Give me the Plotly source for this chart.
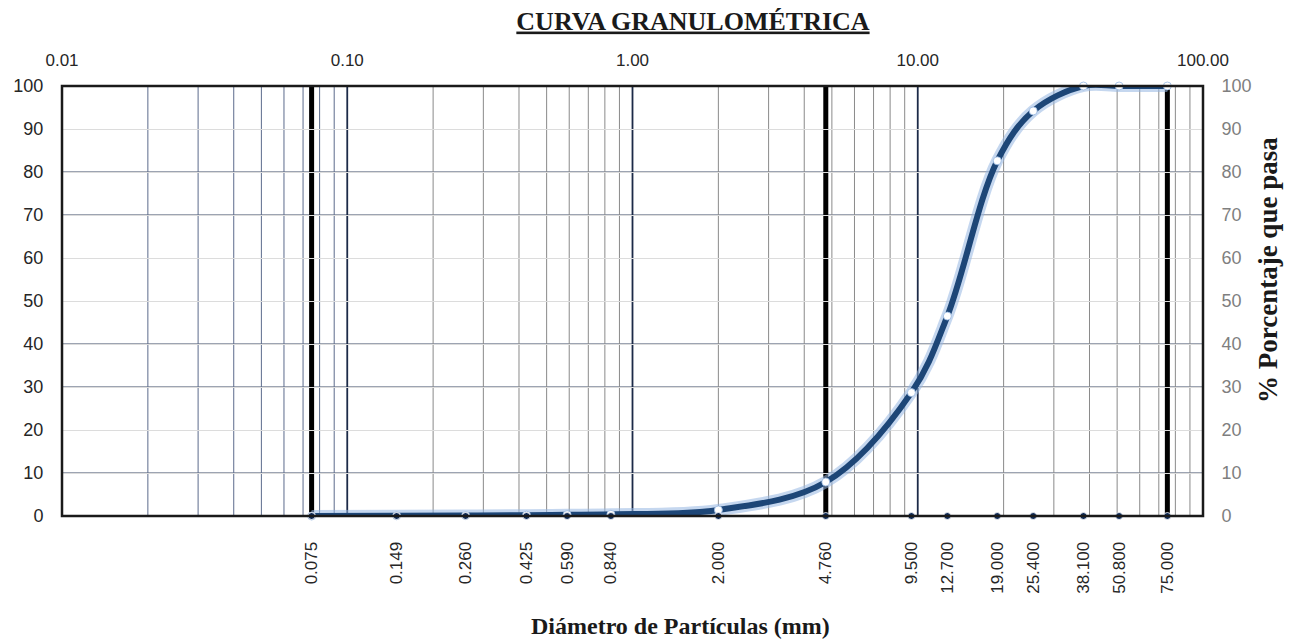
import plotly.graph_objects as go

# ---- data ----
sieve_mm = [0.075, 0.149, 0.260, 0.425, 0.590, 0.840, 2.000, 4.760, 9.500,
            12.700, 19.000, 25.400, 38.100, 50.800, 75.000]
sieve_labels = ["0.075", "0.149", "0.260", "0.425", "0.590", "0.840", "2.000",
                "4.760", "9.500", "12.700", "19.000", "25.400", "38.100",
                "50.800", "75.000"]
pct_passing = [0.0, 0.05, 0.1, 0.2, 0.3, 0.4, 1.4, 7.9, 28.7, 46.5, 82.6,
               94.2, 100.0, 100.0, 100.0]
base_zero = [0] * len(sieve_mm)
top_ticks = [0.01, 0.1, 1, 10, 100]
top_labels = ["0.01", "0.10", "1.00", "10.00", "100.00"]
thick_lines = [0.075, 4.76, 75]
y_ticks = list(range(0, 101, 10))

# gridline positions (log grid)
major_grid = [0.1, 1, 10]
minor_grid = [m * 10 ** e for e in range(-2, 2) for m in range(2, 10)]
dark_hlines = [10, 30, 40, 70, 80]

NAVY = "#1D4677"
SERIF = "Liberation Serif, DejaVu Serif, serif"
SANS = "Liberation Sans, Arial, sans-serif"

fig = go.Figure()

# glow under curve
fig.add_trace(go.Scatter(x=sieve_mm, y=pct_passing, mode="lines",
                         line=dict(color="rgba(150,182,225,0.55)", width=12,
                                   shape="spline", smoothing=1.0),
                         hoverinfo="skip", showlegend=False))
fig.add_trace(go.Scatter(x=sieve_mm, y=pct_passing, mode="lines",
                         line=dict(color=NAVY, width=6, shape="spline",
                                   smoothing=1.0),
                         showlegend=False))
fig.add_trace(go.Scatter(x=sieve_mm, y=pct_passing, mode="markers",
                         marker=dict(color="white", size=8,
                                     line=dict(color="rgba(150,182,225,0.8)", width=1)),
                         cliponaxis=False, showlegend=False))
fig.add_trace(go.Scatter(x=sieve_mm, y=base_zero, mode="markers",
                         marker=dict(color="#0E2A57", size=7,
                                     line=dict(color="white", width=0.8)),
                         cliponaxis=False, showlegend=False))
# invisible trace for top axis
fig.add_trace(go.Scatter(x=top_ticks, y=[None] * len(top_ticks), xaxis="x2",
                         yaxis="y", mode="markers", showlegend=False,
                         hoverinfo="skip"))
# invisible trace for right axis
fig.add_trace(go.Scatter(x=sieve_mm, y=[None] * len(sieve_mm), xaxis="x",
                         yaxis="y2", mode="markers", showlegend=False,
                         hoverinfo="skip"))

shapes = []
for v in minor_grid:
    col = "#5C6B8C" if v < 0.1 else "#8A8A8A"
    shapes.append(dict(type="line", xref="x", yref="y", x0=v, x1=v, y0=0,
                       y1=100, line=dict(color=col, width=1), layer="below"))
for v in major_grid:
    shapes.append(dict(type="line", xref="x", yref="y", x0=v, x1=v, y0=0,
                       y1=100, line=dict(color="#1C2A48", width=1.8),
                       layer="below"))
for v in dark_hlines:
    shapes.append(dict(type="line", xref="paper", yref="y", x0=0, x1=1, y0=v,
                       y1=v, line=dict(color="#3A4865", width=1),
                       layer="below"))
for v in thick_lines:
    shapes.append(dict(type="line", xref="x", yref="y", x0=v, x1=v, y0=0,
                       y1=100, line=dict(color="black", width=5),
                       layer="below"))
shapes.append(dict(type="rect", xref="paper", yref="paper", x0=0, x1=1, y0=0,
                   y1=1, line=dict(color="#1a1a1a", width=2.5), layer="above"))

fig.update_layout(
    width=1299, height=639,
    paper_bgcolor="white", plot_bgcolor="white",
    margin=dict(l=62, r=96, t=86, b=123),
    shapes=shapes,
    title=dict(text="<b><u>CURVA GRANULOMÉTRICA</u></b>",
               font=dict(family=SERIF, size=26, color="#1a1a1a"),
               x=0.553, xref="paper", xanchor="center",
               y=0.968, yref="container", yanchor="middle"),
    xaxis=dict(type="log", range=[-2, 2], tickvals=sieve_mm,
               ticktext=sieve_labels, tickangle=-90, showgrid=False,
               zeroline=False, showline=False, ticks="outside", ticklen=18,
               tickcolor="rgba(0,0,0,0)", automargin=False,
               tickfont=dict(family=SANS, size=17, color="#262626")),
    xaxis2=dict(type="log", range=[-2, 2], overlaying="x", side="top",
                tickvals=top_ticks, ticktext=top_labels, showgrid=False,
                zeroline=False, showline=False, ticks="outside", ticklen=12,
                tickcolor="rgba(0,0,0,0)", automargin=False,
                tickfont=dict(family=SANS, size=17, color="#262626")),
    yaxis=dict(range=[0, 100], tickvals=y_ticks, showgrid=True,
               gridcolor="#DCDCDC", gridwidth=1, zeroline=False,
               showline=False, ticks="outside", ticklen=14,
               tickcolor="rgba(0,0,0,0)", automargin=False,
               tickfont=dict(family=SANS, size=18, color="#262626")),
    yaxis2=dict(range=[0, 100], tickvals=y_ticks, overlaying="y",
                side="right", showgrid=False, zeroline=False, showline=False,
                ticks="outside", ticklen=14, tickcolor="rgba(0,0,0,0)",
                automargin=False,
                tickfont=dict(family=SANS, size=18, color="#7F7F7F")),
    annotations=[
        dict(text="<b>Diámetro de Partículas (mm)</b>", xref="paper",
             yref="paper", x=0.5425, y=-0.256, showarrow=False,
             xanchor="center", yanchor="middle",
             font=dict(family=SERIF, size=24, color="#1a1a1a")),
        dict(text="<b>% Porcentaje que pasa</b>", xref="paper", yref="paper",
             x=1.057, y=0.572, showarrow=False, textangle=-90,
             xanchor="center", yanchor="middle",
             font=dict(family=SERIF, size=27, color="#1a1a1a")),
    ],
    showlegend=False,
)

fig.write_html("out.html",
               config={"displayModeBar": False},
               post_script="document.body.style.margin='0';"
                           "document.body.style.overflow='hidden';")
